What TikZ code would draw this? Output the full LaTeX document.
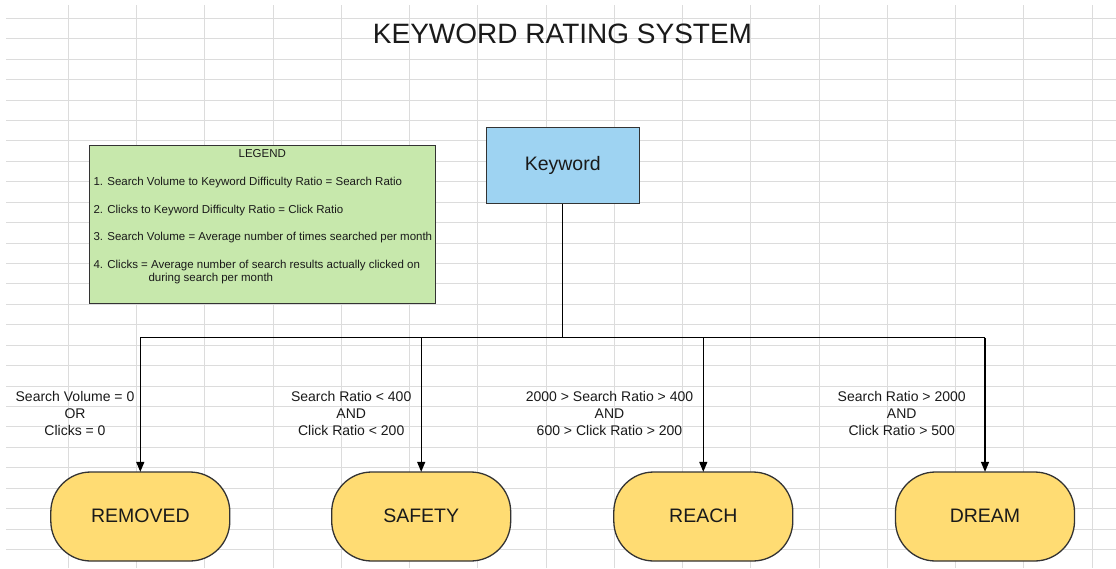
\documentclass[tikz,border=0pt]{standalone}
\usepackage{fontspec}
\setmainfont{Liberation Sans}
\usetikzlibrary{arrows.meta}
\definecolor{gridc}{HTML}{DCDCDC}
\definecolor{kwfill}{HTML}{9ED3F2}
\definecolor{lgfill}{HTML}{C7E8AC}
\definecolor{stfill}{HTML}{FFDC73}
\definecolor{bordc}{HTML}{333333}
\definecolor{txtc}{HTML}{1A1A1A}
\tikzset{
  gridline/.style={draw=gridc, line width=0.9pt},
  stadium/.style={draw=bordc, line width=1.3pt, fill=stfill, rounded corners=40pt,
    minimum width=179pt, minimum height=89pt, inner sep=0pt, text=txtc,
    font=\fontsize{19.5}{23}\selectfont},
  kwbox/.style={draw=bordc, line width=1.3pt, fill=kwfill, minimum width=153pt,
    minimum height=76pt, inner sep=0pt, text=txtc, font=\fontsize{19.5}{23}\selectfont},
  lgbox/.style={draw=bordc, line width=1.3pt, fill=lgfill, minimum width=346pt,
    minimum height=158pt, inner sep=0pt},
  lgtext/.style={anchor=base west, inner sep=0pt, text=txtc, font=\fontsize{11.5}{13.8}\selectfont},
  cond/.style={align=center, inner sep=0pt, text=txtc, font=\fontsize{14}{17}\selectfont},
  conn/.style={draw=black, line width=1.3pt},
  arr/.style={conn, -{Triangle[length=10pt,width=8pt]}, shorten >=-0.5pt},
}
\begin{document}
\begin{tikzpicture}[x=1pt,y=-1pt]
\useasboundingbox (0,0) rectangle (1116,568);
\fill[white] (0,0) rectangle (1116,568);
% grid
\foreach \k in {1,...,16} {\draw[gridline] ({68.25*\k},5) -- ({68.25*\k},568);}
\foreach \j in {0,...,26} {\draw[gridline] (6,{18.3+20.43*\j}) -- (1116,{18.3+20.43*\j});}
% title
\node[text=txtc, inner sep=0pt, font=\fontsize{28}{33}\selectfont] (title) at (562.5,34) {KEYWORD RATING SYSTEM};
% legend
\node[lgbox] (legend) at (262.7,224.2) {};
\node[text=txtc, inner sep=0pt, font=\fontsize{11.5}{13.8}\selectfont] (lgtitle) at (262.3,154) {LEGEND};
\node[lgtext] (lg1) at (93.3,185.7) {1. Search Volume to Keyword Difficulty Ratio = Search Ratio};
\node[lgtext] (lg2) at (93.3,213.3) {2. Clicks to Keyword Difficulty Ratio = Click Ratio};
\node[lgtext] (lg3) at (93.3,240.7) {3. Search Volume = Average number of times searched per month};
\node[lgtext] (lg4) at (93.3,268) {4. Clicks = Average number of search results actually clicked on};
\node[lgtext] (lg5) at (148.3,281.5) {during search per month};
% keyword
\node[kwbox] (kw) at (562.7,165.3) {Keyword};
% stadiums
\node[stadium] (removed) at (140.3,516.5) {\raisebox{2pt}{REMOVED}};
\node[stadium] (safety) at (421.2,516.5) {\raisebox{2pt}{SAFETY}};
\node[stadium] (reach) at (703.3,516.5) {\raisebox{2pt}{REACH}};
\node[stadium] (dream) at (985,516.5) {\raisebox{2pt}{DREAM}};
% junction coordinates
\coordinate (jk) at (562.7,337.7);
\coordinate (j1) at (140.3,337.7);
\coordinate (j2) at (421.2,337.7);
\coordinate (j3) at (703.3,337.7);
\coordinate (j4) at (985,337.7);
\draw[conn] (kw.south) -- (jk);
\draw[conn] (j1) -- (j4);
\draw[arr] (j1) -- (removed.north);
\draw[arr] (j2) -- (safety.north);
\draw[arr] (j3) -- (reach.north);
\draw[arr] (j4) -- (dream.north);
% conditions
\node[cond] (c1) at (75,413) {Search Volume = 0\\OR\\Clicks = 0};
\node[cond] (c2) at (351.2,413) {Search Ratio < 400\\AND\\Click Ratio < 200};
\node[cond] (c3) at (609.5,413) {2000 > Search Ratio > 400\\AND\\600 > Click Ratio > 200};
\node[cond] (c4) at (901.7,413) {Search Ratio > 2000\\AND\\Click Ratio > 500};
\end{tikzpicture}
\end{document}
